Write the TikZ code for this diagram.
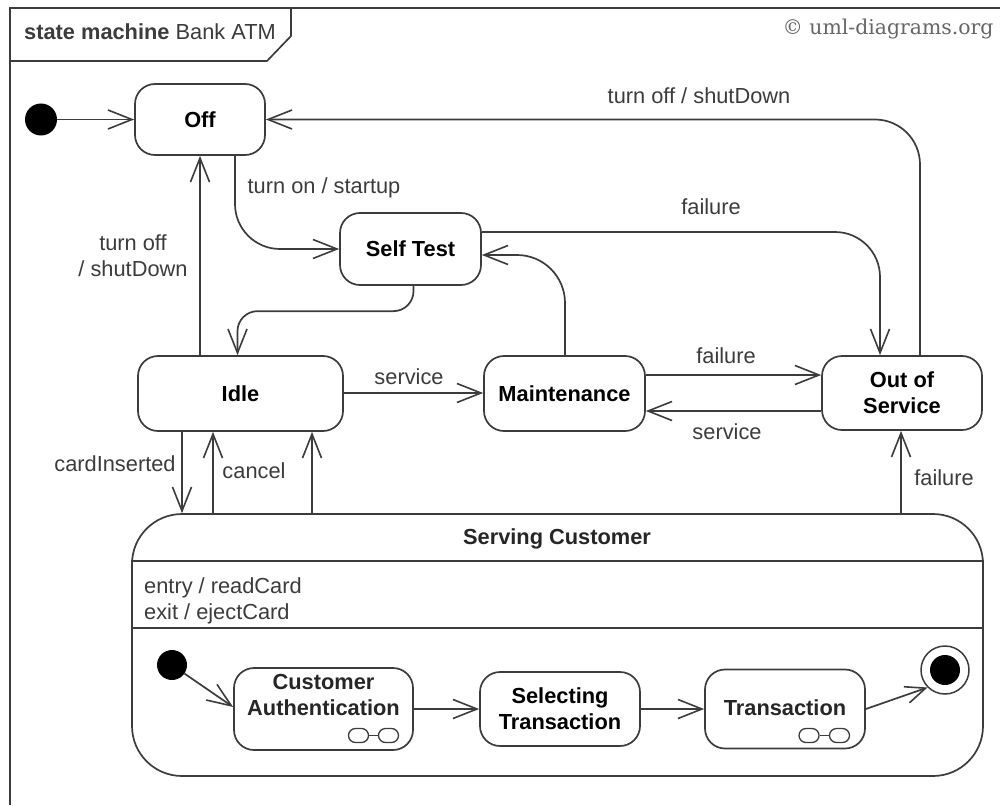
\documentclass[tikz,border=0pt]{standalone}
\usepackage{fontspec}
\setmainfont{Liberation Sans}
\newfontfamily\wmfont{DejaVu Serif}
\usetikzlibrary{arrows.meta}
\definecolor{ink}{HTML}{3C3C3C}
\tikzset{
  base/.style={draw=ink,line width=1.7pt},
  state/.style={base,rounded corners=20pt,inner sep=0pt,align=center,font=\fontsize{21.8}{26}\selectfont\bfseries,fill=white},
  statelabel/.style={inner sep=0pt,align=center,font=\fontsize{21.8}{26}\selectfont\bfseries,text=black!85},
  lbl/.style={inner sep=0pt,align=center,font=\fontsize{21.8}{26}\selectfont,text=ink},
  llbl/.style={lbl,align=left,anchor=west},
  conn/.style={base,-{Straight Barb[length=24pt,width=19pt,line width=1.6pt]}},
  dot/.style={circle,fill=black,inner sep=0pt},
  linkcell/.style={base,line width=1.3pt,rounded corners=7pt,minimum width=20pt,minimum height=14pt,inner sep=0pt},
}
\begin{document}
\begin{tikzpicture}[x=1pt,y=-1pt]
\useasboundingbox (0,0) rectangle (1000,805);
\fill[white] (0,0) rectangle (1000,805);
% frame
\draw[base] (10,805) -- (10,8) -- (1000,8);
\draw[base] (10,61) -- (267,61) -- (291,36) -- (291,8);
\node[lbl,anchor=west] (title) at (24,32) {\textbf{state machine} Bank ATM};
\node[inner sep=0pt,text=black!60,font=\fontsize{20.4}{24}\wmfont] (wm) at (888,29) {© uml-diagrams.org};
% states
\node[state,minimum width=130pt,minimum height=71pt] (off) at (200,119.5) {Off};
\node[state,minimum width=141pt,minimum height=72pt] (self) at (410.5,249) {Self Test};
\node[state,minimum width=205pt,minimum height=75pt] (idle) at (240.5,393.5) {Idle};
\node[state,minimum width=161pt,minimum height=75pt] (maint) at (564.5,393.5) {Maintenance};
\node[state,minimum width=160pt,minimum height=74pt] (oos) at (902,393) {Out of\\Service};
\node[state,rounded corners=50pt,minimum width=851pt,minimum height=262pt] (sc) at (557.5,645) {};
\node[statelabel] (sctitle) at (557,539) {Serving Customer};
\draw[base] ([yshift=-48pt]sc.north west) -- ([yshift=-48pt]sc.north east);
\draw[base] ([yshift=-115pt]sc.north west) -- ([yshift=-115pt]sc.north east);
\node[llbl] (entry) at (144,588) {entry / readCard};
\node[llbl] (exit) at (144,614) {exit / ejectCard};
\node[state,minimum width=179pt,minimum height=82pt] (ca) at (323.5,709) {};
\node[statelabel] (catext) at (323.5,695) {Customer\\Authentication};
\node[linkcell] (ca1) at (358.5,735.5) {};
\node[linkcell] (ca2) at (388.5,735.5) {};
\draw[base,line width=1.3pt] (ca1) -- (ca2);
\node[state,minimum width=160pt,minimum height=74pt] (sel) at (560,709) {Selecting\\Transaction};
\node[state,minimum width=160pt,minimum height=79pt] (tr) at (785,709) {};
\node[statelabel] (trtext) at (785,708) {Transaction};
\node[linkcell] (tr1) at (809,735.5) {};
\node[linkcell] (tr2) at (839.5,735.5) {};
\draw[base,line width=1.3pt] (tr1) -- (tr2);
% pseudostates
\node[dot,minimum size=32pt] (init) at (41,119.5) {};
\node[dot,minimum size=30pt] (init2) at (172,665) {};
\node[circle,base,line width=1.5pt,fill=white,minimum size=48pt,inner sep=0pt] (final) at (945,670) {};
\node[dot,minimum size=30pt] (finaldot) at (945,670) {};
% connectors
\draw[conn] (init) -- (off);
\draw[conn,rounded corners=45pt] ([xshift=18pt]oos.north) |- (off.east);
\draw[conn,rounded corners=45pt] ([xshift=35pt]off.south) |- (self.west);
\draw[conn,rounded corners=20pt] ([xshift=3pt]self.south) |- ([xshift=-3pt,yshift=44pt]idle.north) -- ([xshift=-3pt]idle.north);
\draw[conn,rounded corners=45pt] ([yshift=17pt]self.east) -| ([xshift=-22pt]oos.north);
\draw[conn,rounded corners=48pt] ([xshift=0.5pt]maint.north) |- ([yshift=-6pt]self.east);
\draw[conn] ([xshift=-40.5pt]idle.north) -- (off.south);
\draw[conn] ([yshift=0.5pt]idle.east) -- ([yshift=0.5pt]maint.west);
\draw[conn] ([yshift=18.5pt]maint.east) -- ([yshift=18pt]oos.west);
\draw[conn] ([yshift=-18pt]oos.west) -- ([yshift=-17.5pt]maint.east);
\draw[conn] ([xshift=343.5pt]sc.north) -- ([xshift=-1pt]oos.south);
\draw[conn] ([xshift=-58.5pt]idle.south) -- ([xshift=-375.5pt]sc.north);
\draw[conn] ([xshift=-344.5pt]sc.north) -- ([xshift=-27.5pt]idle.south);
\draw[conn] ([xshift=-245.5pt]sc.north) -- ([xshift=71.5pt]idle.south);
\draw[conn] (init2) -- ([yshift=2pt]ca.west);
\draw[conn] (ca.east) -- (sel.west);
\draw[conn] (sel.east) -- (tr.west);
\draw[conn,-{Straight Barb[length=20pt,width=17pt,line width=1.6pt]}] (tr.east) -- (final.225);
% labels
\node[lbl] (l1) at (699,96) {turn off / shutDown};
\node[lbl] (l2) at (324,188) {turn on / startup};
\node[lbl] (l3) at (711,207) {failure};
\node[lbl] (l4) at (133,256) {turn off\\/ shutDown};
\node[lbl] (l5) at (409,377) {service};
\node[lbl] (l6) at (726,356) {failure};
\node[lbl] (l7) at (727,432) {service};
\node[lbl] (l8) at (115,464) {cardInserted};
\node[lbl] (l9) at (254,471) {cancel};
\node[lbl] (l10) at (944,478) {failure};
\end{tikzpicture}
\end{document}
